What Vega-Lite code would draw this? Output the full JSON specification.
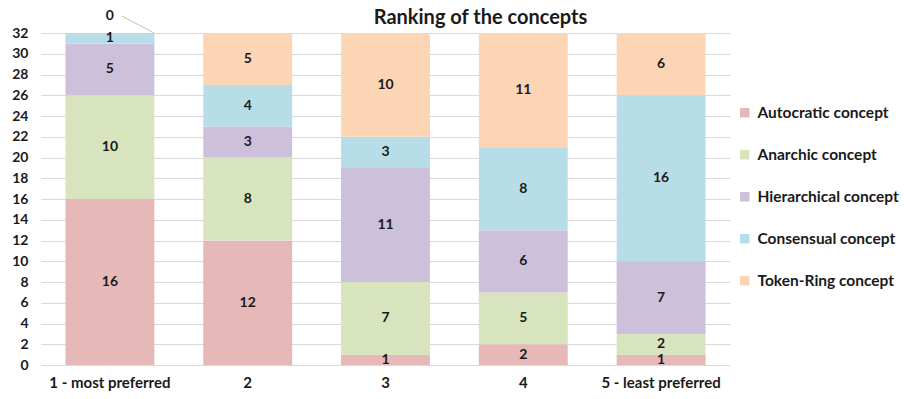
{
  "$schema": "https://vega.github.io/schema/vega-lite/v6.json",
  "width": 689,
  "height": 332,
  "autosize": {"type": "none"},
  "padding": {"left": 41, "top": 33, "right": 174, "bottom": 34},
  "background": "white",
  "title": {
    "text": "Ranking of the concepts",
    "font": "Lato",
    "fontSize": 20,
    "fontWeight": "bold",
    "color": "#1a1a1a",
    "anchor": "middle",
    "dx": 95,
    "dy": 19,
    "offset": 0
  },
  "config": {
    "view": {"stroke": null},
    "font": "Lato",
    "axis": {
      "labelFont": "Lato",
      "labelFontSize": 14,
      "labelFontWeight": "bold",
      "labelColor": "#1a1a1a",
      "domain": false,
      "ticks": false,
      "title": null
    },
    "legend": {
      "labelFont": "Lato",
      "labelFontSize": 15.5,
      "labelFontWeight": "bold",
      "labelColor": "#1a1a1a",
      "padding": 0
    }
  },
  "data": {
    "values": [
      {"rank": "1 - most preferred", "concept": "Autocratic concept", "count": 16},
      {"rank": "1 - most preferred", "concept": "Anarchic concept", "count": 10},
      {"rank": "1 - most preferred", "concept": "Hierarchical concept", "count": 5},
      {"rank": "1 - most preferred", "concept": "Consensual concept", "count": 1},
      {"rank": "1 - most preferred", "concept": "Token-Ring concept", "count": 0},
      {"rank": "2", "concept": "Autocratic concept", "count": 12},
      {"rank": "2", "concept": "Anarchic concept", "count": 8},
      {"rank": "2", "concept": "Hierarchical concept", "count": 3},
      {"rank": "2", "concept": "Consensual concept", "count": 4},
      {"rank": "2", "concept": "Token-Ring concept", "count": 5},
      {"rank": "3", "concept": "Autocratic concept", "count": 1},
      {"rank": "3", "concept": "Anarchic concept", "count": 7},
      {"rank": "3", "concept": "Hierarchical concept", "count": 11},
      {"rank": "3", "concept": "Consensual concept", "count": 3},
      {"rank": "3", "concept": "Token-Ring concept", "count": 10},
      {"rank": "4", "concept": "Autocratic concept", "count": 2},
      {"rank": "4", "concept": "Anarchic concept", "count": 5},
      {"rank": "4", "concept": "Hierarchical concept", "count": 6},
      {"rank": "4", "concept": "Consensual concept", "count": 8},
      {"rank": "4", "concept": "Token-Ring concept", "count": 11},
      {"rank": "5 - least preferred", "concept": "Autocratic concept", "count": 1},
      {"rank": "5 - least preferred", "concept": "Anarchic concept", "count": 2},
      {"rank": "5 - least preferred", "concept": "Hierarchical concept", "count": 7},
      {"rank": "5 - least preferred", "concept": "Consensual concept", "count": 16},
      {"rank": "5 - least preferred", "concept": "Token-Ring concept", "count": 6}
    ]
  },
  "transform": [
    {
      "calculate": "indexof(['Autocratic concept', 'Anarchic concept', 'Hierarchical concept', 'Consensual concept', 'Token-Ring concept'], datum.concept)",
      "as": "stackOrder"
    }
  ],
  "encoding": {
    "x": {
      "field": "rank",
      "type": "nominal",
      "sort": null,
      "scale": {"paddingInner": 0.355, "paddingOuter": 0.1775},
      "axis": {"labelAngle": 0, "labelPadding": 10, "labelFontSize": 15, "grid": false}
    },
    "y": {
      "field": "count",
      "type": "quantitative",
      "stack": "zero",
      "scale": {"domain": [0, 32], "nice": false},
      "axis": {
        "values": [0, 2, 4, 6, 8, 10, 12, 14, 16, 18, 20, 22, 24, 26, 28, 30, 32],
        "labelOverlap": false,
        "grid": true,
        "gridColor": "#d9d9d9",
        "gridWidth": 1,
        "labelPadding": 13
      }
    },
    "order": {"field": "stackOrder", "type": "quantitative", "sort": "ascending"}
  },
  "layer": [
    {
      "mark": {"type": "bar"},
      "encoding": {
        "color": {
          "field": "concept",
          "type": "nominal",
          "scale": {
            "domain": ["Autocratic concept", "Anarchic concept", "Hierarchical concept", "Consensual concept", "Token-Ring concept"],
            "range": ["#e6b8b7", "#d7e4bd", "#ccc0da", "#b7dee8", "#fcd5b5"]
          },
          "legend": {
            "title": null,
            "orient": "none",
            "legendX": 696,
            "legendY": 72,
            "symbolType": "square",
            "symbolSize": 90,
            "symbolStrokeWidth": 0,
            "rowPadding": 25,
            "labelOffset": 5
          }
        }
      }
    },
    {
      "mark": {"type": "text", "font": "Lato", "fontSize": 14, "fontWeight": "bold", "color": "#1a1a1a"},
      "encoding": {
        "y": {"field": "count", "type": "quantitative", "stack": "zero", "bandPosition": 0.5},
        "detail": {"field": "concept"},
        "text": {"field": "count", "type": "quantitative"},
        "opacity": {"condition": {"test": "datum.count > 0", "value": 1}, "value": 0}
      }
    },
    {
      "transform": [{"filter": "datum.count == 0"}],
      "mark": {"type": "text", "font": "Lato", "fontSize": 14, "fontWeight": "bold", "color": "#1a1a1a", "dy": -17},
      "encoding": {
        "y": {"datum": 32, "type": "quantitative"},
        "order": null,
        "text": {"field": "count", "type": "quantitative"}
      }
    },
    {
      "transform": [{"filter": "datum.count == 0"}],
      "mark": {"type": "rule", "color": "#bfbfbf", "strokeWidth": 1, "xOffset": 12, "yOffset": -17, "x2Offset": 44, "y2Offset": 0},
      "encoding": {
        "y": {"datum": 32, "type": "quantitative"},
        "y2": {"datum": 32},
        "order": null,
        "x2": {"field": "rank"}
      }
    }
  ]
}
